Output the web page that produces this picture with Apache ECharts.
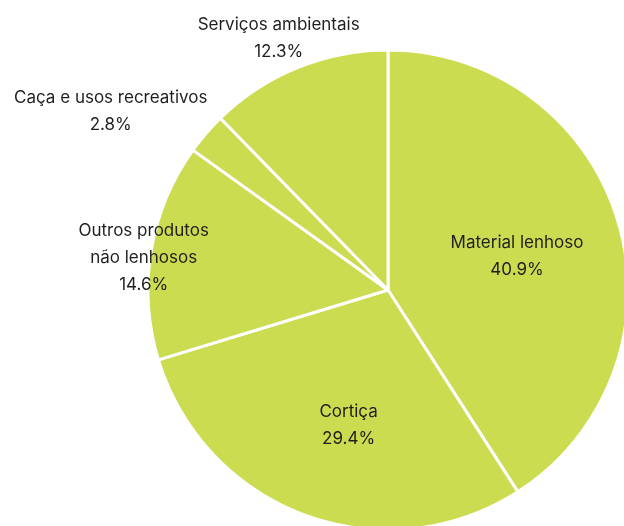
<!DOCTYPE html>
<html>
<head>
<meta charset="utf-8">
<script src="https://cdn.jsdelivr.net/npm/echarts@6/dist/echarts.min.js"></script>
<style>
  html, body { margin: 0; padding: 0; background: #ffffff; }
  #chart { width: 624px; height: 526px; }
</style>
</head>
<body>
<div id="chart"></div>
<script>
// Share of forest value by product / service (%)
const categories = [
  'Material lenhoso',
  'Cortiça',
  'Outros produtos\nnão lenhosos',
  'Caça e usos recreativos',
  'Serviços ambientais'
];
const shares = [40.9, 29.4, 14.6, 2.8, 12.3];

// Label nudges away from each slice's default inside anchor
const labelShift = [
  [11, 1],
  [3, 20],
  [-123, -12],
  [-184, -98],
  [-63, -138]
];

const chart = echarts.init(document.getElementById('chart'), null, { renderer: 'canvas' });

chart.setOption({
  animation: false,
  backgroundColor: '#ffffff',
  series: [{
    type: 'pie',
    center: [388, 290],
    radius: [0, 240],
    startAngle: 90,
    clockwise: true,
    silent: true,
    itemStyle: {
      color: '#cbdc50',
      borderColor: '#ffffff',
      borderWidth: 3
    },
    label: {
      show: true,
      position: 'inside',
      formatter: p => p.name + '\n' + p.value.toFixed(1) + '%',
      fontFamily: 'Inter',
      fontSize: 17,
      lineHeight: 27,
      color: '#1f1f1f',
      align: 'center'
    },
    labelLine: { show: false },
    labelLayout: params => ({
      dx: labelShift[params.dataIndex][0],
      dy: labelShift[params.dataIndex][1]
    }),
    data: categories.map((name, i) => ({ name: name, value: shares[i] }))
  }]
});
</script>
</body>
</html>
